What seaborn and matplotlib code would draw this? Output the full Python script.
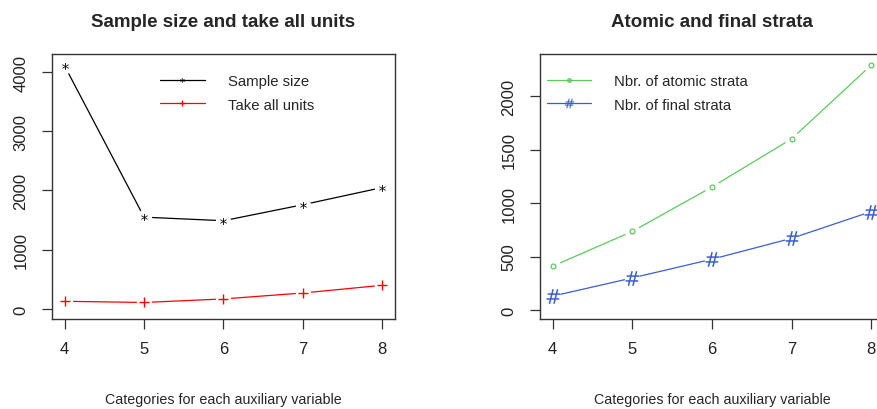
import matplotlib
matplotlib.use("Agg")
import matplotlib.pyplot as plt
from matplotlib.lines import Line2D
import pandas as pd
import seaborn as sns

# ===== DATA =====
categories = [4, 5, 6, 7, 8]
sample_size = [4100, 1550, 1490, 1760, 2050]
take_all = [130, 110, 170, 270, 400]
atomic_strata = [410, 735, 1150, 1600, 2290]
final_strata = [130, 300, 475, 670, 920]

left_yticks = [0, 1000, 2000, 3000, 4000]
right_yticks = [0, 500, 1000, 1500, 2000]

df = pd.DataFrame({
    "cat": categories,
    "sample": sample_size,
    "takeall": take_all,
    "atomic": atomic_strata,
    "final": final_strata,
})

sns.set_style("white")
plt.rcParams["font.family"] = ["Liberation Sans", "DejaVu Sans"]

fig = plt.figure(figsize=(8.77, 4.10), dpi=100)
W, H = 877, 410


def box(l, t, r, b):
    return [l / W, 1 - b / H, (r - l) / W, (b - t) / H]


ax1 = fig.add_axes(box(52, 55, 395, 320))
ax2 = fig.add_axes(box(540, 55, 884, 320))

GREEN = "#5ccb5c"
BLUE = "#3a5fcd"


def series(ax, col, color, marker, ms, mew, mfc=None):
    # R type="b": line with gaps around the points
    sns.lineplot(data=df, x="cat", y=col, ax=ax, color=color, lw=0.9, zorder=1)
    ax.plot(df["cat"], df[col], ls="none", marker="o", ms=11, mfc="white",
            mec="none", zorder=2)
    ax.plot(df["cat"], df[col], ls="none", marker=marker, ms=ms, color=color,
            mfc=mfc if mfc else color, mew=mew, zorder=3)


series(ax1, "sample", "black", "$*$", 5, 0)
series(ax1, "takeall", "#ff0000", "+", 7, 1.0)
series(ax2, "atomic", GREEN, "o", 3.5, 0.9, mfc="none")
series(ax2, "final", BLUE, r"$\#$", 10.5, 0)

for ax, yt, ylim, title in [
    (ax1, left_yticks, (-169, 4304), "Sample size and take all units"),
    (ax2, right_yticks, (-84, 2393), "Atomic and final strata"),
]:
    ax.set_xlim(3.84, 8.16)
    ax.set_ylim(*ylim)
    ax.set_xticks(categories)
    ax.set_yticks(yt)
    ax.set_yticklabels([str(v) for v in yt], rotation=90, va="center")
    ax.tick_params(direction="out", length=7, width=0.9, labelsize=12,
                   color="#333333", labelcolor="#222222", left=True, bottom=True)
    ax.tick_params(axis="x", pad=9)
    ax.tick_params(axis="y", pad=10)
    for s in ax.spines.values():
        s.set_color("#333333")
        s.set_linewidth(1.0)
    ax.set_xlabel("")
    ax.set_ylabel("")
    ax.set_title(title, fontsize=13.5, fontweight="bold", pad=20)
    ax.text(0.5, -0.303, "Categories for each auxiliary variable",
            transform=ax.transAxes, ha="center", va="center", fontsize=10.3)

legend_kw = dict(loc="upper left", frameon=False, fontsize=10.7,
                 handlelength=3.0, handletextpad=1.55, labelspacing=0.65,
                 borderpad=0, borderaxespad=0)

h1 = [Line2D([], [], color="black", lw=0.9, marker="$*$", ms=3.5, mew=0),
      Line2D([], [], color="#ff0000", lw=0.9, marker="+", ms=5)]
ax1.legend(h1, ["Sample size", "Take all units"],
           bbox_to_anchor=(0.315, 0.925), **legend_kw)

h2 = [Line2D([], [], color=GREEN, lw=0.9, marker="o", ms=2.5, mfc="none"),
      Line2D([], [], color=BLUE, lw=0.9, marker=r"$\#$", ms=7, mew=0)]
ax2.legend(h2, ["Nbr. of atomic strata", "Nbr. of final strata"],
           bbox_to_anchor=(0.02, 0.925), **legend_kw)

fig.savefig("out.png", dpi=100)
